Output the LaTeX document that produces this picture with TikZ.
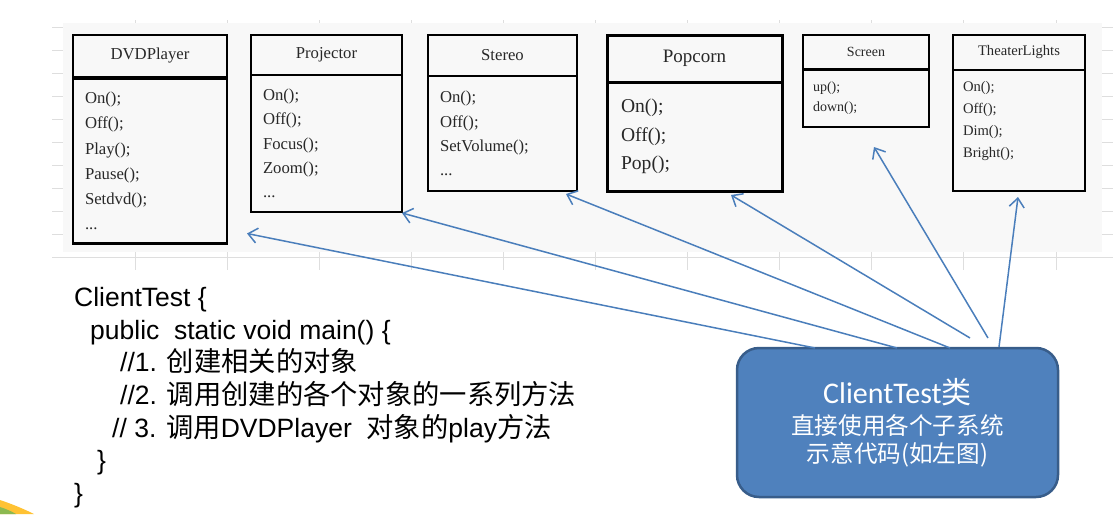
\documentclass[tikz,border=0pt]{standalone}
\usepackage{fontspec}
\setmainfont{Liberation Serif}
\newfontfamily\arialfont{Liberation Sans}
\newfontfamily\calibrifont{Carlito}
\newfontfamily\cjk{Noto Sans CJK SC}
\newfontfamily\cjkcode{Noto Sans CJK SC}[Scale=1.03]
\usepackage{tikz}
\usetikzlibrary{arrows.meta,positioning,calc}
\definecolor{gridcolor}{RGB}{222,222,222}
\definecolor{panelcolor}{RGB}{248,248,248}
\definecolor{arrowblue}{RGB}{74,126,187}
\definecolor{clientfill}{RGB}{79,129,189}
\definecolor{clientdraw}{RGB}{56,93,138}
\definecolor{methodcolor}{RGB}{40,40,40}
\tikzstyle{gridline}=[gridcolor,line width=1pt]
\tikzstyle{classhead}=[draw=black,line width=2.3pt,outer sep=0pt,inner sep=0pt,anchor=north west,text=methodcolor]
\tikzstyle{classbody}=[draw=black,line width=2.3pt,outer sep=0pt,inner ysep=0pt,align=left,text=methodcolor]
\tikzstyle{clientbox}=[draw=clientdraw,fill=clientfill,line width=2.5pt,rounded corners=22pt,outer sep=0pt,text=white,align=center,minimum width=321pt,minimum height=149pt]
\tikzstyle{callarrow}=[-{Straight Barb[length=9pt,width=15pt]},line width=1.5pt,arrowblue]

\begin{document}
\begin{tikzpicture}[x=1pt,y=-1pt]
\useasboundingbox (0,0) rectangle (1113,514);
\def\colsep{92.1}

    % sheet behind the classes
    \foreach \y in {27,50,...,257}
        \draw[gridline] (52,\y) -- (1113,\y);
    \foreach \i in {0,...,10}
        \draw[gridline] (135+\colsep*\i,20) -- (135+\colsep*\i,270);
    \fill[panelcolor] (63,23) rectangle (1102,252);

    % subsystem classes
    \node[classhead, minimum width=154pt, minimum height=42pt, font=\fontsize{16.7}{20}\selectfont] (dvd) at (73,35) {DVDPlayer};
    \node[classbody, below=1.5pt of dvd, text width=130pt, inner xsep=12pt, minimum height=165pt, font=\fontsize{16.7}{25.3}\selectfont] (dvd-body)
        {On();\\Off();\\Play();\\Pause();\\Setdvd();\\...};

    \node[classhead, minimum width=151pt, minimum height=40pt, font=\fontsize{16.7}{20}\selectfont] (proj) at (251,35) {Projector};
    \node[classbody, below=0pt of proj, text width=127pt, inner xsep=12pt, minimum height=137pt, font=\fontsize{16.7}{24.3}\selectfont] (proj-body)
        {On();\\Off();\\Focus();\\Zoom();\\...};

    \node[classhead, minimum width=149pt, minimum height=41pt, font=\fontsize{16.7}{20}\selectfont] (stereo) at (428,35) {Stereo};
    \node[classbody, below=0pt of stereo, text width=125pt, inner xsep=12pt, minimum height=115pt, font=\fontsize{16.7}{24.2}\selectfont] (stereo-body)
        {On();\\Off();\\SetVolume();\\...};

    \node[classhead, line width=3pt, minimum width=175pt, minimum height=47pt, font=\fontsize{19}{22}\selectfont] (popcorn) at (607,35) {Popcorn};
    \node[classbody, line width=3pt, below=0pt of popcorn, text width=147pt, inner xsep=14pt, minimum height=109pt, font=\fontsize{19.6}{28.5}\selectfont] (popcorn-body)
        {On();\\Off();\\Pop();};

    \node[classhead, minimum width=126pt, minimum height=34.5pt, font=\fontsize{14}{16}\selectfont] (screen) at (803,35) {Screen};
    \node[classbody, below=0pt of screen, text width=106pt, inner xsep=10pt, minimum height=57.5pt, font=\fontsize{14}{20}\selectfont] (screen-body)
        {up();\\down();};

    \node[classhead, minimum width=132pt, minimum height=35pt, font=\fontsize{14.6}{17}\selectfont] (lights) at (953,35) {TheaterLights};
    \node[classbody, below=0pt of lights, text width=112pt, inner xsep=10pt, minimum height=121pt, font=\fontsize{14.6}{22}\selectfont] (lights-body)
        {On();\\Off();\\Dim();\\Bright();\\\mbox{}};

    % client code
    \node[anchor=north west, inner sep=0pt, align=left, font=\arialfont\fontsize{26.5}{32.7}\selectfont] (code) at (74,287)
        {ClientTest \{\\
        \hspace*{16pt}public\ \ static void main() \{\\
        \hspace*{46pt}//1. {\cjkcode 创建相关的对象}\\
        \hspace*{46pt}//2. {\cjkcode 调用创建的各个对象的一系列方法}\\
        \hspace*{38pt}// 3. {\cjkcode 调用}DVDPlayer\ \ {\cjkcode 对象的}play{\cjkcode 方法}\\
        \hspace*{23pt}\}\\
        \}};

    \node[clientbox, font=\cjk\fontsize{23.6}{28}\selectfont] (client) at (897.5,422.5)
        {{\calibrifont\fontsize{30}{32}\selectfont ClientTest{\cjk 类}}\\[3pt]
        直接使用各个子系统\\
        示意代码(如左图)};

    \draw[callarrow] ([xshift=78pt]client.north west) -- ([shift={(20,-10)}]dvd-body.south east);
    \draw[callarrow] ([xshift=160pt]client.north west) -- ([shift={(0,1)}]proj-body.south east);
    \draw[callarrow] ([xshift=213pt]client.north west) -- ([shift={(-11,3)}]stereo-body.south east);
    \draw[callarrow] ([shift={(233,-10)}]client.north west) -- ([shift={(36.5,4)}]popcorn-body.south);
    \draw[callarrow] ([shift={(251,-10)}]client.north west) -- ([shift={(8,20)}]screen-body.south);
    \draw[callarrow] ([shift={(262,-1)}]client.north west) -- ([shift={(-1,6)}]lights-body.south);

    % slide corner
    \fill[orange!60!yellow!80] (0,500) .. controls (12,504) and (24,509) .. (34,514) -- (0,514) -- cycle;
    \fill[olive!50!green!70] (0,507) .. controls (6,509) and (11,511) .. (16,514) -- (0,514) -- cycle;
\end{tikzpicture}
\end{document}
